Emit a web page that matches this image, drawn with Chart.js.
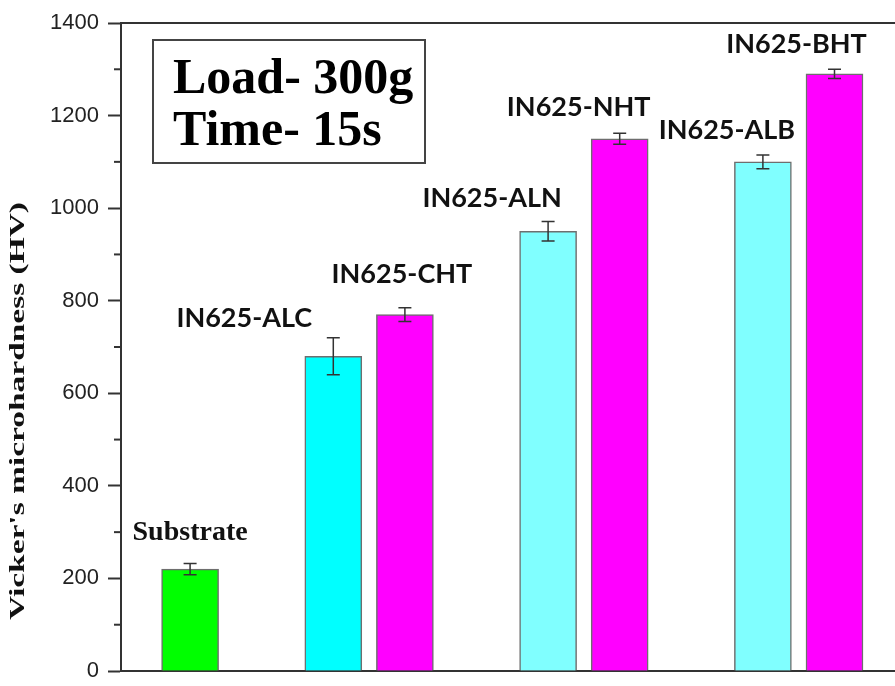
<!DOCTYPE html>
<html>
<head>
<meta charset="utf-8">
<script src="https://cdn.jsdelivr.net/npm/chart.js@4.4.1/dist/chart.umd.min.js"></script>
<style>
    html, body { margin: 0; padding: 0; background: #fff; overflow: hidden; }
</style>
</head>
<body>
<canvas id="hardnessChart" width="895" height="686"></canvas>
<script>
'use strict';

// samples, their slot on the x axis (gaps between groups), hardness and error
const samples = ['Substrate', 'IN625-ALC', 'IN625-CHT', 'IN625-ALN', 'IN625-NHT', 'IN625-ALB', 'IN625-BHT'];
const slots = [0, 2, 3, 5, 6, 8, 9];
const hardness = [220, 680, 770, 950, 1150, 1100, 1290];
const hardnessErr = [12, 40, 15, 21, 12, 15, 10];
const yTicks = [0, 200, 400, 600, 800, 1000, 1200, 1400];
const yMinorTicks = [100, 300, 500, 700, 900, 1100, 1300];

const barColors = ['#00ff00', '#00ffff', '#ff00ff', '#80ffff', '#ff00ff', '#80ffff', '#ff00ff'];

// error bars drawn on top of each bar
const errorBars = {
    id: 'errorBars',
    afterDatasetsDraw: function (chart) {
        const ctx = chart.ctx;
        const yScale = chart.scales.y;
        const meta = chart.getDatasetMeta(0);
        ctx.save();
        ctx.strokeStyle = '#333';
        ctx.lineWidth = 1.5;
        meta.data.forEach(function (bar, i) {
            const top = yScale.getPixelForValue(hardness[i] + hardnessErr[i]);
            const bot = yScale.getPixelForValue(hardness[i] - hardnessErr[i]);
            ctx.beginPath();
            ctx.moveTo(bar.x, top);
            ctx.lineTo(bar.x, bot);
            ctx.moveTo(bar.x - 6.5, top);
            ctx.lineTo(bar.x + 6.5, top);
            ctx.moveTo(bar.x - 6.5, bot);
            ctx.lineTo(bar.x + 6.5, bot);
            ctx.stroke();
        });
        ctx.restore();
    }
};

// sample names above the bars (offsets in px from bar centre / error top)
const barNames = {
    id: 'barNames',
    afterDatasetsDraw: function (chart, args, opts) {
        const ctx = chart.ctx;
        const yScale = chart.scales.y;
        const meta = chart.getDatasetMeta(0);
        ctx.save();
        ctx.textAlign = 'center';
        ctx.textBaseline = 'middle';
        ctx.fillStyle = '#111';
        meta.data.forEach(function (bar, i) {
            const off = opts.offsets[i];
            const top = yScale.getPixelForValue(hardness[i] + hardnessErr[i]);
            ctx.font = i === 0 ? 'bold 28px "Liberation Serif"' : 'bold 27px Lato';
            ctx.fillText(samples[i], bar.x + off[0], top + off[1]);
        });
        ctx.restore();
    }
};

// minor ticks, rotated y title and the Load/Time box
const decorations = {
    id: 'decorations',
    afterDraw: function (chart) {
        const ctx = chart.ctx;
        const area = chart.chartArea;
        const yScale = chart.scales.y;
        ctx.save();

        ctx.strokeStyle = '#333';
        ctx.lineWidth = 2;
        yMinorTicks.forEach(function (v) {
            const py = yScale.getPixelForValue(v);
            ctx.beginPath();
            ctx.moveTo(area.left - 7, py);
            ctx.lineTo(area.left, py);
            ctx.stroke();
        });

        // y axis title
        ctx.save();
        ctx.translate(18, 411);
        ctx.rotate(-Math.PI / 2);
        ctx.font = 'bold 22px "Liberation Serif"';
        const title = "Vicker's microhardness (HV)";
        const w = ctx.measureText(title).width;
        ctx.scale(418 / w, 1);
        ctx.fillStyle = '#111';
        ctx.textAlign = 'center';
        ctx.textBaseline = 'middle';
        ctx.fillText(title, 0, 0);
        ctx.restore();

        // info box
        const bx = area.left + 32, by = area.top + 17;
        ctx.fillStyle = '#fff';
        ctx.fillRect(bx, by, 272, 123);
        ctx.strokeStyle = '#444';
        ctx.lineWidth = 2;
        ctx.strokeRect(bx, by, 272, 123);
        ctx.fillStyle = '#000';
        ctx.textAlign = 'left';
        ctx.textBaseline = 'alphabetic';
        ctx.font = 'bold 50px "Liberation Serif"';
        ctx.fillText('Load- 300g', bx + 20, by + 53);
        ctx.fillText('Time- 15s', bx + 20, by + 105);

        ctx.restore();
    }
};

function hardnessChart(chartId) {
    const ctx = document.getElementById(chartId);
    new Chart(ctx, {
        type: 'bar',
        data: {
            datasets: [{
                data: slots.map((s, i) => ({ x: s, y: hardness[i] })),
                backgroundColor: barColors,
                borderColor: '#6e6e6e',
                borderWidth: 1.5,
                barThickness: 57
            }]
        },
        options: {
            responsive: false,
            animation: false,
            layout: { padding: { top: 23, right: 0, bottom: 15, left: 0 } },
            scales: {
                x: {
                    type: 'linear',
                    offset: false,
                    min: -0.965,
                    max: 9.845,
                    afterFit: s => { s.height = 0; },
                    border: { display: true, color: '#333', width: 2 },
                    grid: { display: true, drawOnChartArea: false, drawTicks: false },
                    ticks: { display: false }
                },
                xTop: {
                    type: 'linear',
                    position: 'top',
                    offset: false,
                    min: -0.965,
                    max: 9.845,
                    afterFit: s => { s.height = 0; },
                    border: { display: true, color: '#333', width: 2 },
                    grid: { display: true, drawOnChartArea: false, drawTicks: false },
                    ticks: { display: false }
                },
                y: {
                    min: 0,
                    max: 1400,
                    afterFit: s => {
                        s.width = 121;
                        s.paddingTop = 0;
                        s.paddingBottom = 0;
                    },
                    afterBuildTicks: s => { s.ticks = yTicks.map(v => ({ value: v })); },
                    border: { display: true, color: '#333', width: 2 },
                    grid: {
                        drawOnChartArea: false,
                        drawTicks: true,
                        tickLength: 13,
                        tickWidth: 2,
                        tickColor: '#333'
                    },
                    ticks: {
                        padding: 9,
                        color: '#222',
                        font: { family: 'Liberation Sans', size: 22 },
                        callback: v => String(v)
                    }
                }
            },
            plugins: {
                legend: { display: false },
                tooltip: { enabled: false },
                barNames: {
                    offsets: [[0, -31], [-89, -19], [-3, -33], [-56, -23], [-41, -26], [-36, -25], [-38, -25]]
                }
            }
        },
        plugins: [errorBars, barNames, decorations]
    });
}

hardnessChart('hardnessChart');
</script>
</body>
</html>
